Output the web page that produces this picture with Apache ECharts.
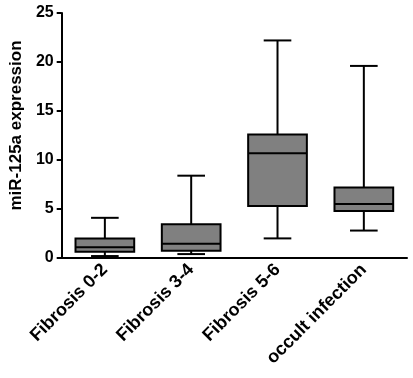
<!DOCTYPE html>
<html>
<head>
<meta charset="utf-8">
<script src="https://cdn.jsdelivr.net/npm/echarts@6/dist/echarts.min.js"></script>
<style>
  html, body { margin: 0; padding: 0; background: #fff; }
  #chart { width: 413px; height: 378px; }
</style>
</head>
<body>
<div id="chart"></div>
<script>
  // 分组
  const categories = ['Fibrosis 0-2', 'Fibrosis 3-4', 'Fibrosis 5-6', 'occult infection']
  // [min, Q1, median, Q3, max]
  const boxValues = [
    [0.2, 0.65, 1.1, 2.0, 4.1],
    [0.4, 0.75, 1.45, 3.45, 8.4],
    [2.0, 5.3, 10.7, 12.6, 22.2],
    [2.8, 4.8, 5.5, 7.2, 19.6]
  ]
  const yTicks = [0, 5, 10, 15, 20, 25]

  const myChart = echarts.init(document.getElementById('chart'))
  const font = 'Liberation Sans, Arial, sans-serif'

  function renderBox(params, api) {
    const idx = api.value(0)
    const xc = api.coord([idx, 0])[0]
    const bandW = api.size([1, 0])[0]
    const half = bandW * 0.34
    const cap = bandW * 0.16
    const yMin = api.coord([idx, api.value(1)])[1]
    const yQ1 = api.coord([idx, api.value(2)])[1]
    const yMed = api.coord([idx, api.value(3)])[1]
    const yQ3 = api.coord([idx, api.value(4)])[1]
    const yMax = api.coord([idx, api.value(5)])[1]
    const line = { stroke: '#000', lineWidth: 2 }
    return {
      type: 'group',
      children: [
        { type: 'line', shape: { x1: xc, y1: yMax, x2: xc, y2: yQ3 }, style: line },
        { type: 'line', shape: { x1: xc, y1: yQ1, x2: xc, y2: yMin }, style: line },
        { type: 'line', shape: { x1: xc - cap, y1: yMax, x2: xc + cap, y2: yMax }, style: line },
        { type: 'line', shape: { x1: xc - cap, y1: yMin, x2: xc + cap, y2: yMin }, style: line },
        {
          type: 'rect',
          shape: { x: xc - half, y: yQ3, width: half * 2, height: yQ1 - yQ3 },
          style: { fill: '#808080', stroke: '#000', lineWidth: 2 }
        },
        { type: 'line', shape: { x1: xc - half, y1: yMed, x2: xc + half, y2: yMed }, style: line }
      ]
    }
  }

  const option = {
    animation: false,
    grid: { left: 57, top: 13, right: 6, bottom: 120, containLabel: false },
    xAxis: {
      type: 'category',
      data: categories,
      boundaryGap: true,
      axisLine: { lineStyle: { color: '#000', width: 2 } },
      axisTick: { alignWithLabel: true, length: 6, lineStyle: { color: '#000', width: 2 } },
      axisLabel: {
        rotate: 45,
        interval: 0,
        color: '#000',
        fontFamily: font,
        fontWeight: 'bold',
        fontSize: 18,
        margin: 9
      }
    },
    yAxis: {
      type: 'value',
      min: 0,
      max: 25,
      interval: 5,
      name: 'miR-125a expression',
      nameLocation: 'middle',
      nameGap: 33,
      nameTextStyle: {
        color: '#000',
        fontFamily: font,
        fontWeight: 'bold',
        fontSize: 17,
        padding: [0, 0, 0, 20]
      },
      axisLine: { show: true, lineStyle: { color: '#000', width: 2 } },
      axisTick: { show: true, length: 5, lineStyle: { color: '#000', width: 2 } },
      axisLabel: {
        color: '#000',
        fontFamily: font,
        fontWeight: 'bold',
        fontSize: 16,
        margin: 8,
        customValues: yTicks
      },
      splitLine: { show: false }
    },
    series: [{
      type: 'custom',
      renderItem: renderBox,
      encode: { x: 0, y: [1, 2, 3, 4, 5] },
      data: boxValues.map((b, i) => [i].concat(b))
    }]
  }

  myChart.setOption(option)
</script>
</body>
</html>
